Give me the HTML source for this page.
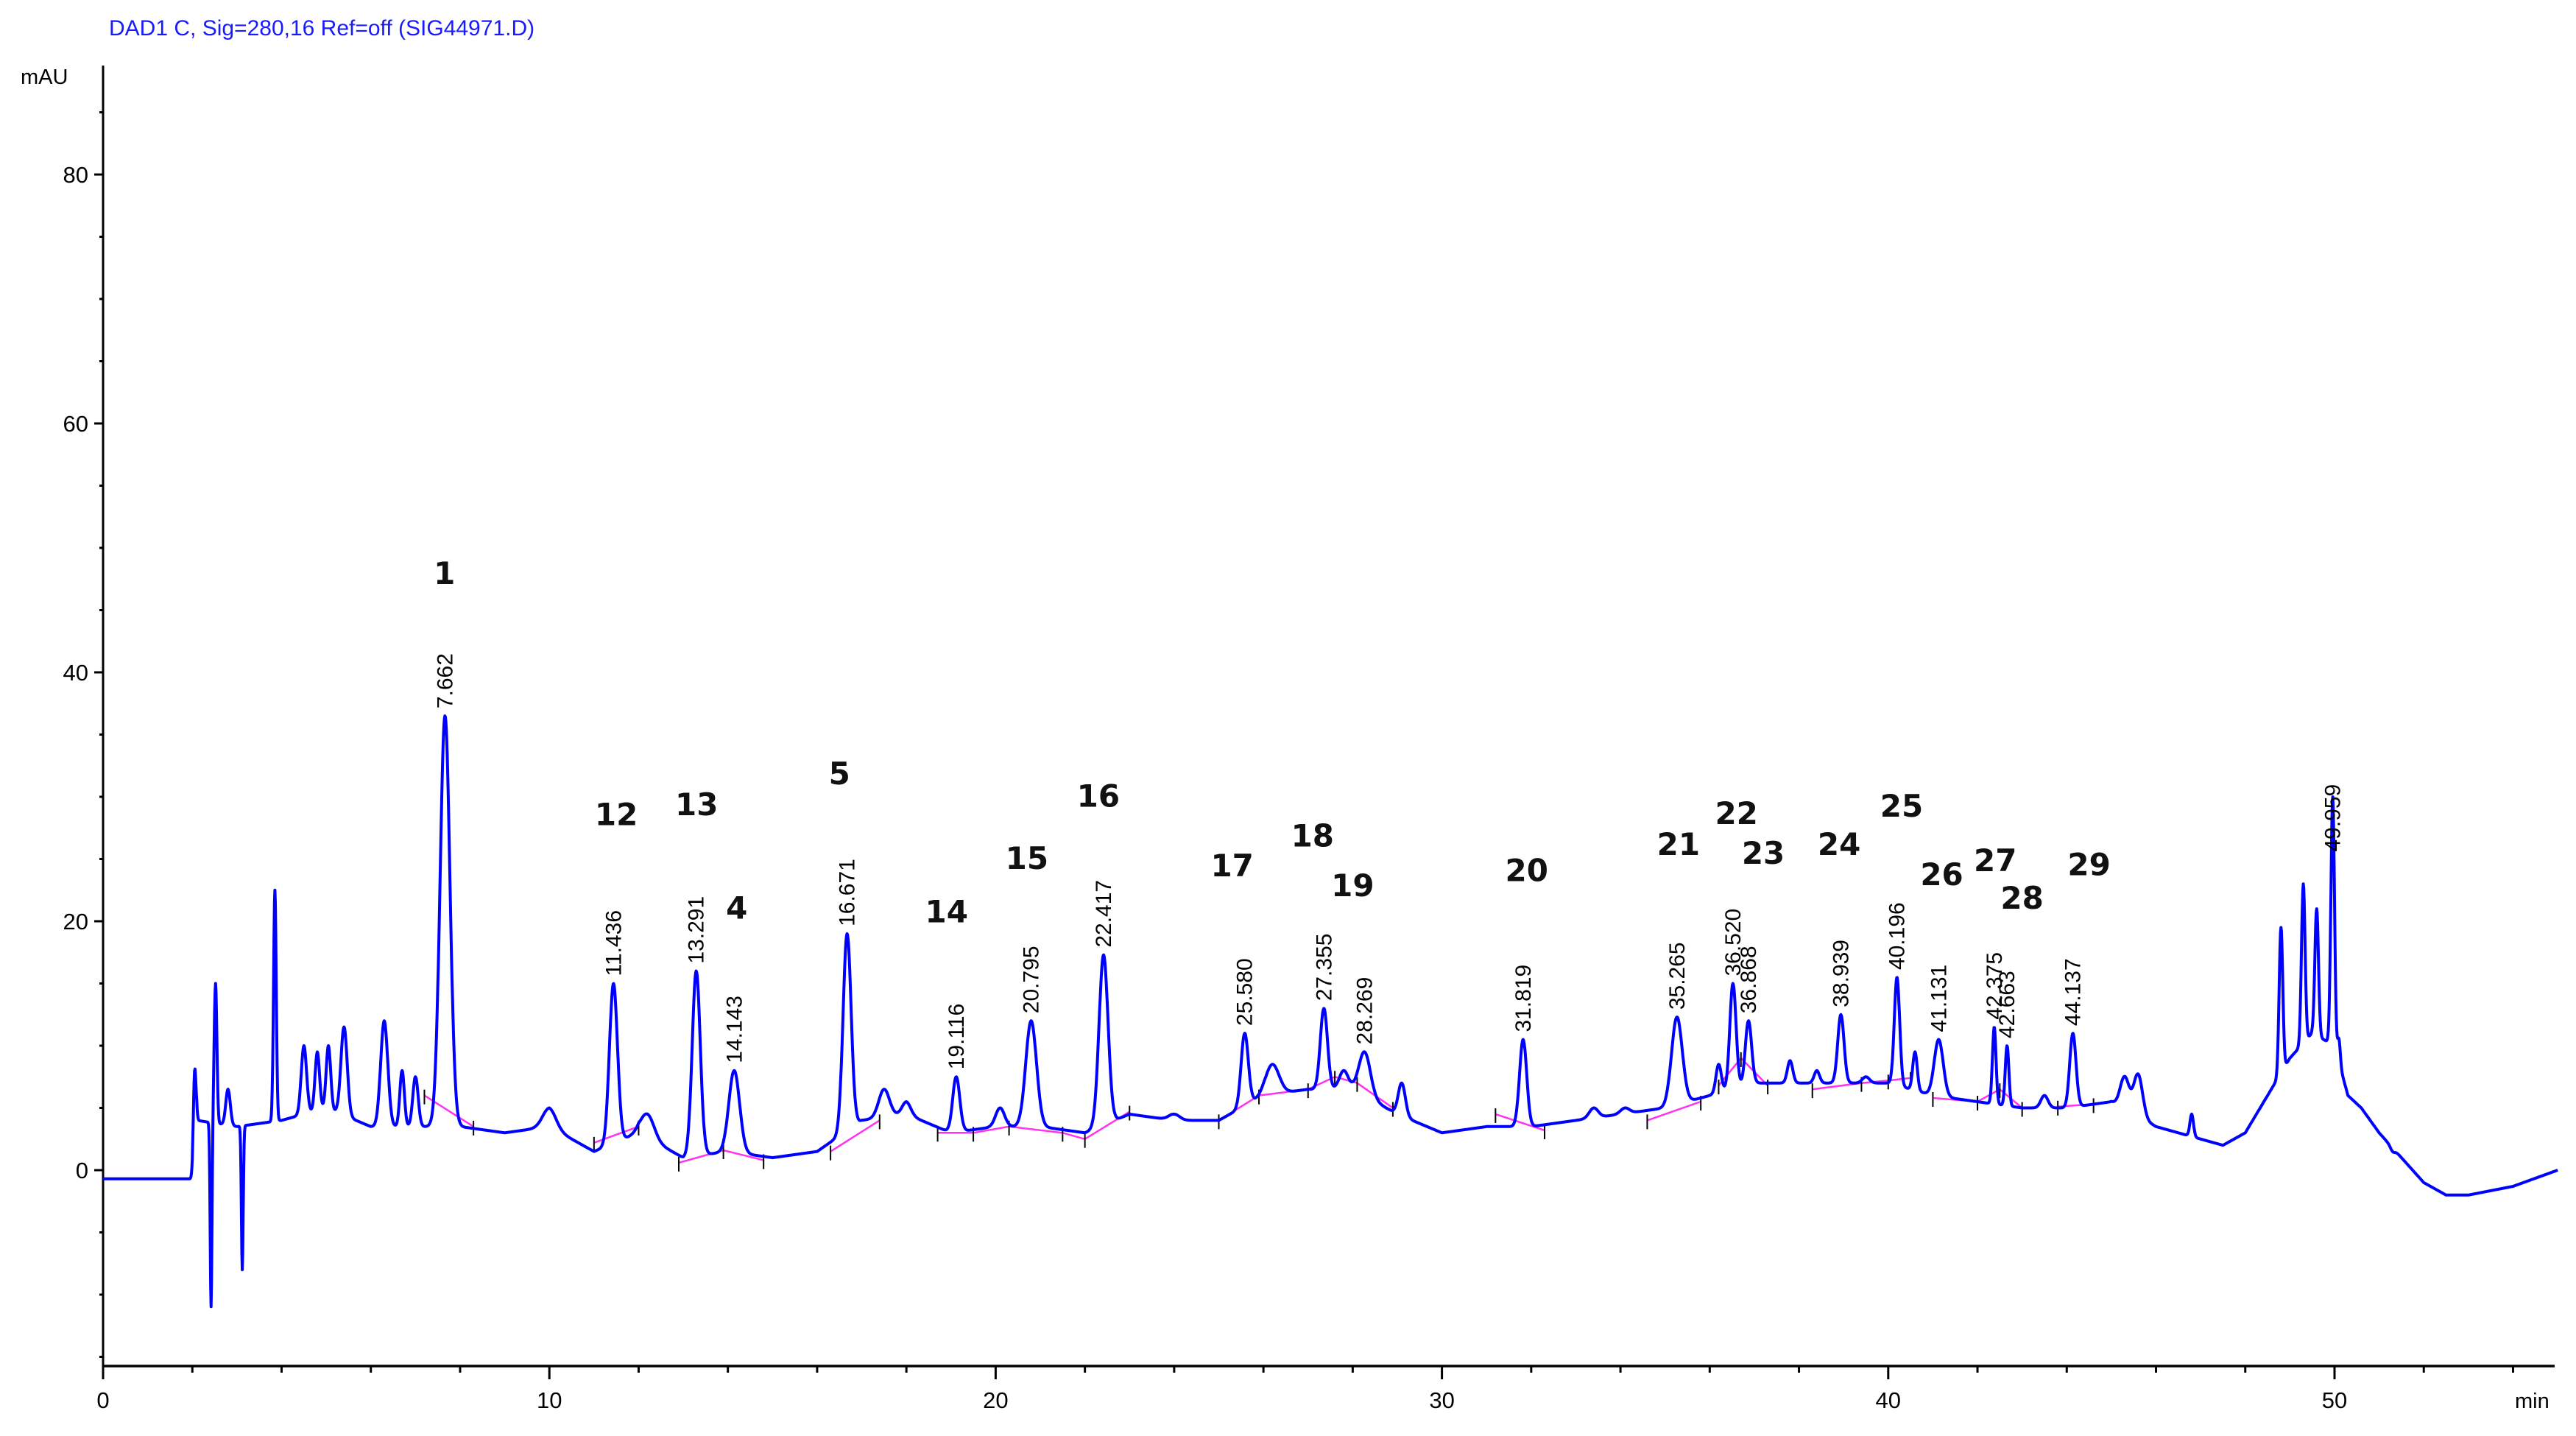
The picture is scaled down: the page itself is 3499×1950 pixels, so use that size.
<!DOCTYPE html>
<html><head><meta charset="utf-8"><style>
html,body{margin:0;padding:0;background:#fff;}
svg{display:block;}
</style></head><body>
<svg id="chart" width="3499" height="1950" viewBox="0 0 3499 1950" xmlns="http://www.w3.org/2000/svg">
<text x="148" y="48" font-family="Liberation Sans, sans-serif" font-size="30" fill="#1a1aff">DAD1 C, Sig=280,16 Ref=off (SIG44971.D)</text>
<text x="28" y="114" font-family="Liberation Sans, sans-serif" font-size="29" fill="#000">mAU</text>
<text x="3416" y="1912" font-family="Liberation Sans, sans-serif" font-size="29" fill="#000">min</text>
<g id="axes"></g>
<g id="baselines"></g>
<path id="trace" fill="none" stroke="#0000ff" stroke-width="4" stroke-linejoin="round"/>
<g id="labels"></g>
</svg>
<script>
// ---- data ----
const baseT = [0,2.0,2.1,3,4,5,6,7,8,9,10,11,12,13,14,15,16,17,18,19,20,21,22,23,24,25,26,27,28,29,30,31,32,33,34,35,36,37,38,39,40,41,42,43,44,45,46,47,47.5,48,48.5,49,49.5,50,50.3,50.6,51,51.5,52,52.5,53,54,55];
const baseV = [-0.7,-0.7,4,3.5,4,5,3.5,3.5,3.5,3,3.5,1.5,3,1,1.5,1,1.5,4,4.5,3,3.5,3.5,3,4.5,4,4,6,6.5,6.5,4.5,3,3.5,3.5,4,4.5,5,6,7,7,7,7,6,5.5,5,5,5.5,3.5,2.5,2,3,6,9,11,10,6,5,3,1,-1,-2,-2,-1.3,0];
const peakTimes = [2.05,2.42,2.52,2.8,3.12,3.85,4.5,4.8,5.05,5.4,6.3,6.7,7.0,7.662,10.0,11.436,12.2,13.291,14.143,16.671,17.5,18.0,19.116,20.1,20.795,22.417,24.0,25.58,26.2,27.355,27.8,28.269,29.1,31.819,33.4,34.1,35.265,36.2,36.52,36.868,37.8,38.4,38.939,39.5,40.196,40.6,41.131,42.375,42.663,43.5,44.137,45.3,45.6,46.8,48.8,49.3,49.6,49.959,50.1,51.3];
const peakHeights = [8,-11,15,6.5,-8,22.5,10,9.5,10,11.5,12,8,7.5,36.5,5,15,4.5,16,8,19,6.5,5.5,7.5,5,12,17.3,4.5,11,8.5,13,8,9.5,7,10.5,5,5,12.3,8.5,15,12,8.8,8,12.5,7.5,15.5,9.5,10.5,11.5,10,6,11,7.5,7.7,4.5,19.5,23,21,30,10.5,1.5];
const peakWidths = [0.03,0.02,0.03,0.05,0.02,0.03,0.06,0.05,0.05,0.07,0.08,0.05,0.06,0.11,0.15,0.09,0.15,0.09,0.12,0.09,0.12,0.1,0.08,0.1,0.12,0.1,0.12,0.08,0.15,0.08,0.1,0.13,0.08,0.08,0.1,0.1,0.12,0.06,0.07,0.07,0.06,0.06,0.07,0.08,0.06,0.05,0.1,0.04,0.04,0.08,0.07,0.1,0.1,0.04,0.04,0.04,0.04,0.04,0.03,0.05];
const segs = [
 [[7.2,6],[8.3,3.5]],
 [[11,2.2],[12,3.5]],
 [[12.9,0.6],[13.9,1.6],[14.8,0.8]],
 [[16.3,1.5],[17.4,4]],
 [[18.7,3],[19.5,3],[20.3,3.5],[21.5,3],[22,2.5],[23,4.7]],
 [[25,4],[25.9,6],[27,6.5],[27.6,7.5],[28.1,7],[28.9,5]],
 [[31.2,4.5],[32.3,3.2]],
 [[34.6,4],[35.8,5.5]],
 [[36.2,6.8],[36.7,9],[37.3,6.8]],
 [[38.3,6.5],[39.4,7],[40,7.2],[40.5,7.4]],
 [[41,5.8],[42,5.5],[42.5,6.5],[43,5]],
 [[43.8,5.1],[44.6,5.3]]
];
const timeLabels = ["7.662","11.436","13.291","14.143","16.671","19.116","20.795","22.417","25.580","27.355","28.269","31.819","35.265","36.520","36.868","38.939","40.196","41.131","42.375","42.663","44.137","49.959"];
const timeLabelPos = [7.662,11.436,13.291,14.143,16.671,19.116,20.795,22.417,25.58,27.355,28.269,31.819,35.265,36.52,36.868,38.939,40.196,41.131,42.375,42.663,44.137,49.959];
const timeLabelTop = [36.5,15,16,8,19,7.5,12,17.3,11,13,9.5,10.5,12.3,15,12,12.5,15.5,10.5,11.5,10,11,25];
const numLabels = ["1","12","13","4","5","14","15","16","17","18","19","20","21","22","23","24","25","26","27","28","29"];
const numLabelX = [7.65,11.5,13.3,14.2,16.5,18.9,20.7,22.3,25.3,27.1,28.0,31.9,35.3,36.6,37.2,38.9,40.3,41.2,42.4,43.0,44.5];
const numLabelY = [48.0,28.6,29.4,21.1,31.9,20.8,25.1,30.1,24.5,26.9,22.9,24.1,26.2,28.7,25.5,26.2,29.3,23.8,24.9,21.9,24.6];
const xTicks = [0,10,20,30,40,50];
const yTicks = [0,20,40,60,80];
// ---- scales ----
const X0=140, PXMIN=60.62, Y0=1589, PXMAU=16.9;
const sx = t => X0 + t*PXMIN;
const sy = v => Y0 - v*PXMAU;
function base(t){
  for(let i=0;i<baseT.length-1;i++){
    if(t<=baseT[i+1]){const f=(t-baseT[i])/(baseT[i+1]-baseT[i]);return baseV[i]+f*(baseV[i+1]-baseV[i]);}
  }
  return baseV[baseV.length-1];
}
const NS="http://www.w3.org/2000/svg";
function el(tag,attrs,parent){const e=document.createElementNS(NS,tag);for(const k in attrs)e.setAttribute(k,attrs[k]);parent.appendChild(e);return e;}
// trace
const amps = peakTimes.map((t,i)=>peakHeights[i]-base(t));
let d="";
for(let t=0;t<=55.001;t+=0.01){
  let v=base(t);
  for(let i=0;i<peakTimes.length;i++){const z=(t-peakTimes[i])/peakWidths[i];if(Math.abs(z)<6)v+=amps[i]*Math.exp(-0.5*z*z);}
  d+=(d?"L":"M")+sx(t).toFixed(1)+","+sy(v).toFixed(1);
}
document.getElementById('trace').setAttribute('d',d);
// axes
const ax=document.getElementById('axes');
const yl=el('line',{x1:X0,y1:89,x2:X0,y2:1856,stroke:'#000','stroke-width':3},ax);


const xl=el('line',{x1:X0,y1:1855,x2:3470,y2:1855,stroke:'#000','stroke-width':3.5},ax);


for(let v=-15;v<=85;v+=5){
  const major=yTicks.includes(v);
  const tk=el('line',{x1:X0-(major?12:5),y1:sy(v),x2:X0,y2:sy(v),stroke:'#000','stroke-width':3},ax);
  
  
}
yTicks.forEach(v=>{
  const tx=el('text',{x:X0-20,y:sy(v)+11,'text-anchor':'end','font-family':'Liberation Sans, sans-serif','font-size':31,fill:'#000'},ax);
  tx.textContent=v;
  
  
});
for(let t=0;t<=54;t+=2){
  const major=xTicks.includes(t);
  const tk=el('line',{x1:sx(t),y1:1855,x2:sx(t),y2:1855+(major?18:9),stroke:'#000','stroke-width':3},ax);
  
  
}
xTicks.forEach(t=>{
  const tx=el('text',{x:sx(t),y:1912,'text-anchor':'middle','font-family':'Liberation Sans, sans-serif','font-size':31,fill:'#000'},ax);
  tx.textContent=t;
  
  
});
// baselines
const bg=document.getElementById('baselines');
segs.forEach(s=>{
  const p=el('polyline',{points:s.map(q=>sx(q[0]).toFixed(1)+","+sy(q[1]).toFixed(1)).join(" "),fill:'none',stroke:'#ff33ee','stroke-width':2.5},bg);
  
  
  s.forEach(q=>{
    const m=el('line',{x1:sx(q[0]),y1:sy(q[1])-8,x2:sx(q[0]),y2:sy(q[1])+12,stroke:'#000','stroke-width':2},bg);
    
    
  });
});
// labels
const lg=document.getElementById('labels');
timeLabels.forEach((s,i)=>{
  const x=sx(timeLabelPos[i])+10, y=sy(timeLabelTop[i])-10;
  const tx=el('text',{x:x,y:y,transform:`rotate(-90 ${x} ${y})`,'font-family':'Liberation Sans, sans-serif','font-size':30,fill:'#000'},lg);
  tx.textContent=s;
  
  
});
numLabels.forEach((s,i)=>{
  const tx=el('text',{x:sx(numLabelX[i]),y:sy(numLabelY[i])+15,'text-anchor':'middle','font-family':'DejaVu Sans, sans-serif','font-weight':'bold','font-size':42,fill:'#111'},lg);
  tx.textContent=s;
  
  
});
</script>
</body></html>
